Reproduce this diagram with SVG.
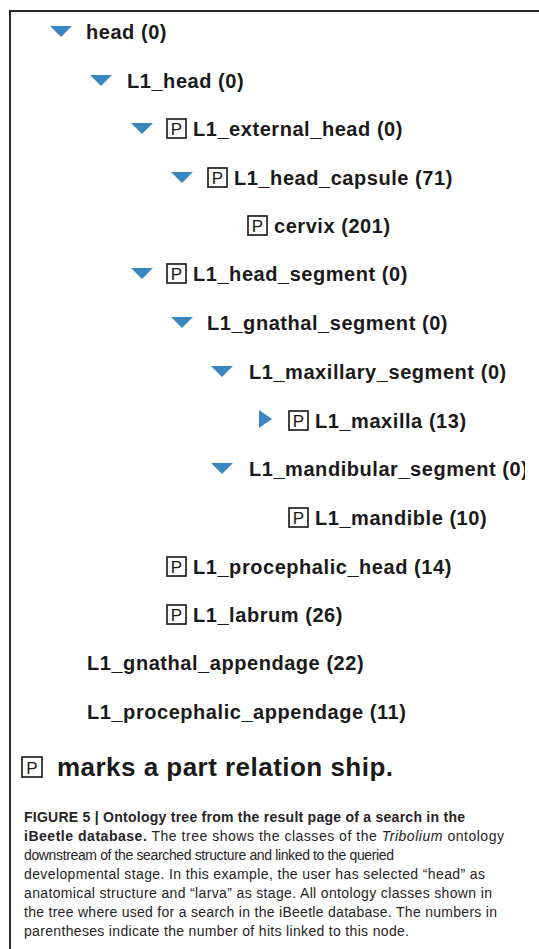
<svg xmlns="http://www.w3.org/2000/svg" xmlns:xlink="http://www.w3.org/1999/xlink" width="539" height="949" viewBox="0 0 539 949">
<style>
.lbl{font-family:"Liberation Sans",Arial,sans-serif;font-weight:bold;font-size:20px;fill:#1a1a1a;letter-spacing:0.55px}
.pt{font-family:"Liberation Sans",Arial,sans-serif;font-size:17px;fill:#1a1a1a;text-anchor:middle}
.pbox{fill:#fff;stroke:#222;stroke-width:1.7}
.tri{fill:#3a86c1}
.leg{font-family:"Liberation Sans",Arial,sans-serif;font-weight:bold;font-size:26px;fill:#1a1a1a}
.cap{font-family:"Liberation Sans",Arial,sans-serif;font-size:14px;fill:#262324}
.capb{font-weight:bold}
</style>
<defs>
<path id="td" class="tri" d="M0,0 L22,0 L11,11 Z"/>
<path id="tr" class="tri" d="M0,0 L13,9 L0,18 Z"/>
<rect id="pb" class="pbox" x="0" y="0" width="19" height="19"/>
<clipPath id="clipR"><rect x="0" y="0" width="525" height="949"/></clipPath>
</defs>
<rect width="539" height="949" fill="#fff"/>
<g id="frame" stroke="#2a2a2a" stroke-width="2" fill="none">
<line x1="10" y1="11" x2="539" y2="11"/>
<line x1="10" y1="10" x2="10" y2="949"/>
</g>
<g id="connectors"/>
<g id="n-head"><use xlink:href="#td" x="50" y="26"/><text class="lbl" x="86" y="39">head (0)</text></g>
<g id="n-L1_head"><use xlink:href="#td" x="90" y="75"/><text class="lbl" x="127" y="88">L1_head (0)</text></g>
<g id="n-L1_external_head"><use xlink:href="#td" x="131" y="123"/><use xlink:href="#pb" x="167" y="119"/><text class="pt" x="176.5" y="134.5">P</text><text class="lbl" x="193" y="136">L1_external_head (0)</text></g>
<g id="n-L1_head_capsule"><use xlink:href="#td" x="171" y="172"/><use xlink:href="#pb" x="208" y="168"/><text class="pt" x="217.5" y="183.5">P</text><text class="lbl" x="234" y="185">L1_head_capsule (71)</text></g>
<g id="n-cervix"><use xlink:href="#pb" x="248" y="216"/><text class="pt" x="257.5" y="231.5">P</text><text class="lbl" x="274" y="233">cervix (201)</text></g>
<g id="n-L1_head_segment"><use xlink:href="#td" x="131" y="268"/><use xlink:href="#pb" x="167" y="264"/><text class="pt" x="176.5" y="279.5">P</text><text class="lbl" x="193" y="281">L1_head_segment (0)</text></g>
<g id="n-L1_gnathal_segment"><use xlink:href="#td" x="171" y="317"/><text class="lbl" x="207" y="330">L1_gnathal_segment (0)</text></g>
<g id="n-L1_maxillary_segment"><use xlink:href="#td" x="211" y="366"/><text class="lbl" x="249" y="379">L1_maxillary_segment (0)</text></g>
<g id="n-L1_maxilla"><use xlink:href="#tr" x="259" y="410"/><use xlink:href="#pb" x="289" y="411"/><text class="pt" x="298.5" y="426.5">P</text><text class="lbl" x="315" y="428">L1_maxilla (13)</text></g>
<g id="n-L1_mandibular_segment" clip-path="url(#clipR)"><use xlink:href="#td" x="211" y="463"/><text class="lbl" x="249" y="476">L1_mandibular_segment (0)</text></g>
<g id="n-L1_mandible"><use xlink:href="#pb" x="289" y="508"/><text class="pt" x="298.5" y="523.5">P</text><text class="lbl" x="315" y="525">L1_mandible (10)</text></g>
<g id="n-L1_procephalic_head"><use xlink:href="#pb" x="167" y="557"/><text class="pt" x="176.5" y="572.5">P</text><text class="lbl" x="193" y="574">L1_procephalic_head (14)</text></g>
<g id="n-L1_labrum"><use xlink:href="#pb" x="167" y="605"/><text class="pt" x="176.5" y="620.5">P</text><text class="lbl" x="193" y="622">L1_labrum (26)</text></g>
<g id="n-L1_gnathal_appendage"><text class="lbl" x="87" y="670">L1_gnathal_appendage (22)</text></g>
<g id="n-L1_procephalic_appendage"><text class="lbl" x="87" y="719">L1_procephalic_appendage (11)</text></g>
<g id="legend"><rect class="pbox" x="22" y="757" width="20" height="20" stroke-width="2"/><text class="pt" x="32" y="773.5" font-size="18">P</text><text class="leg" x="57" y="776" textLength="336" lengthAdjust="spacing">marks a part relation ship.</text></g>
<g id="caption" class="cap">
<text x="24" y="822" textLength="441" lengthAdjust="spacing"><tspan class="capb">FIGURE 5 | Ontology tree from the result page of a search in the</tspan></text>
<text x="24" y="841" textLength="480" lengthAdjust="spacing"><tspan class="capb">iBeetle database.</tspan> The tree shows the classes of the <tspan font-style="italic">Tribolium</tspan> ontology</text>
<text x="24" y="860" textLength="370" lengthAdjust="spacing">downstream of the searched structure and linked to the queried</text>
<text x="24" y="879" textLength="461" lengthAdjust="spacing">developmental stage. In this example, the user has selected “head” as</text>
<text x="24" y="898" textLength="468" lengthAdjust="spacing">anatomical structure and “larva” as stage. All ontology classes shown in</text>
<text x="24" y="917" textLength="473" lengthAdjust="spacing">the tree where used for a search in the iBeetle database. The numbers in</text>
<text x="24" y="936" textLength="385" lengthAdjust="spacing">parentheses indicate the number of hits linked to this node.</text>
</g>
</svg>
